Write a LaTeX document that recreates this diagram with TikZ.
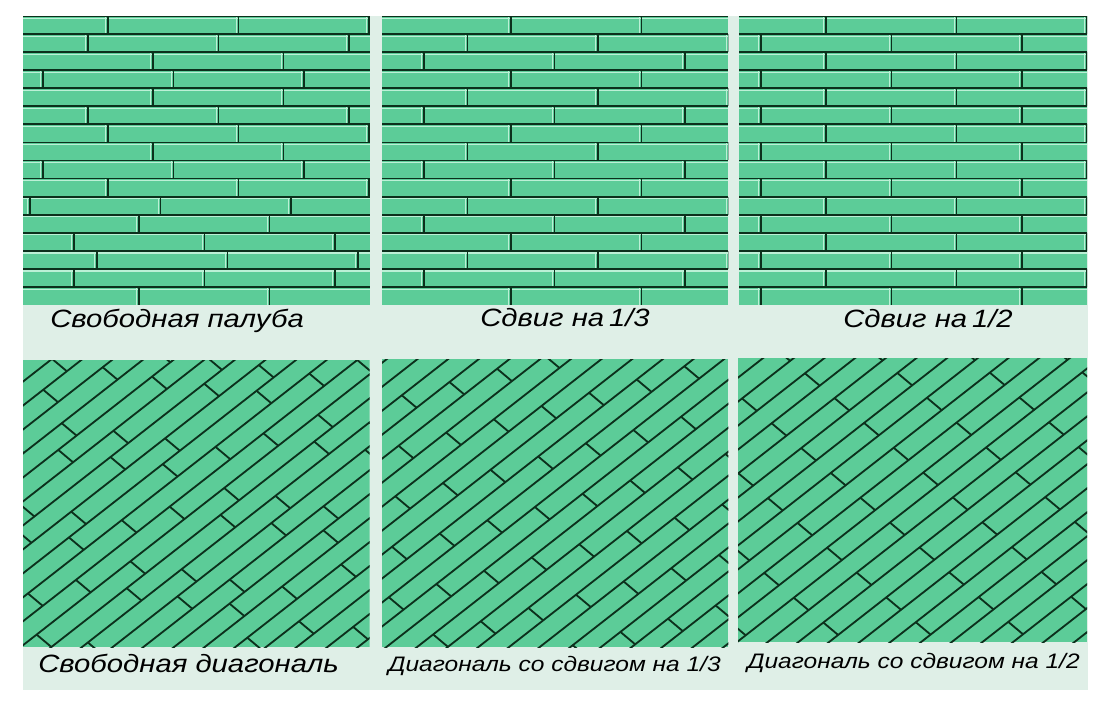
\documentclass[tikz,border=0pt]{standalone}
\usepackage{fontspec}
\setmainfont{Liberation Sans}
\usepackage{tikz}
\definecolor{boardgreen}{RGB}{92,204,152}
\definecolor{seamdark}{RGB}{12,48,28}
\definecolor{boardlight}{RGB}{188,240,214}
\definecolor{mintbg}{RGB}{223,239,231}
\newcommand{\rowheight}{18.06}
\newcommand{\boardlength}{130.5}
\newcommand{\bigcaption}{\fontsize{17.8}{20}\selectfont\itshape}
\newcommand{\smallcaption}{\fontsize{14.9}{17}\selectfont\itshape}
\tikzset{
    panel/.style={fill=boardgreen},
    seam/.style={draw=seamdark, line width=1.3pt},
    slantseam/.style={draw=seamdark, line width=1.3pt},
    gleam/.style={draw=boardlight, line width=0.8pt},
    caption/.style={anchor=base west, inner sep=0pt, xscale=1.17, transform shape, font=\bigcaption},
    smallcaption/.style={caption, font=\smallcaption}
}
% straight deck: left x, right x, first joint of each row
\newcommand{\straightdeck}[3]{%
    \begin{scope}
        \clip (#1,16) rectangle (#2,305);
        \fill[panel] (#1,16) rectangle (#2,305);
        \foreach \off [count=\r from 0] in {#3} {
            \draw[gleam] (#1,16+\r*\rowheight+2.2) -- (#2,16+\r*\rowheight+2.2);
            \foreach \k in {-1,...,3}
                \draw[gleam] ({#1+\off+\k*\boardlength-2.2},16+\r*\rowheight) -- ++(0,\rowheight);
            \draw[seam] (#1,16+\r*\rowheight) -- (#2,16+\r*\rowheight);
            \foreach \k in {-1,...,3}
                \draw[seam] ({#1+\off+\k*\boardlength},16+\r*\rowheight) -- ++(0,\rowheight);
        }
    \end{scope}
}
% slanted deck: corners, row phase, board length, first joint of each row
\newcommand{\slantdeck}[7]{%
    \begin{scope}
        \clip (#1,#2) rectangle (#3,#4);
        \fill[panel] (#1,#2) rectangle (#3,#4);
        \begin{scope}[shift={(#1,#2)}, x={(0.0197cm,0.0154cm)}, y={(0.3696cm,-0.3102cm)}]
            \foreach \off [count=\r from -1] in {#7} {
                \draw[slantseam] (-320,\r+#5) -- (320,\r+#5);
                \foreach \k in {-3,...,3}
                    \draw[slantseam] ({\off+\k*#6},\r+#5) -- ++(0,1);
            }
        \end{scope}
    \end{scope}
}

\begin{document}
\begin{tikzpicture}[x=0.025cm,y=-0.025cm]
    \useasboundingbox (0,0) rectangle (1100,700);
    \fill[mintbg] (23,16) rectangle (1088,690);

    \straightdeck{23}{370}{85,65,130,20,130,65,85,130,20,85,7,116,51,74,51,116}
    \straightdeck{382}{728.3}{129,85.5,42,129,85.5,42,129,85.5,42,129,85.5,42,129,85.5,42,129}
    \straightdeck{739}{1087}{87,22,87,22,87,22,87,22,87,22,87,22,87,22,87,22}

    \slantdeck{23}{360}{369.5}{647}{-0.1}{119}{30,60,20,109,46.7,95,71.8,4,100.5,32,10.3,58.5,100.6,32,8.5,59.5,35.5,83,64,112,49,95.8,60,8,40,60}
    \slantdeck{382}{359}{728.3}{647}{0.16}{125}{109.6,26.3,68,109.6,26.3,68,109.6,26.3,68,109.6,26.3,68,109.6,26.3,68,109.6,26.3,68,109.6,26.3,68,109.6,26.3,68,109.6,26.3}
    \slantdeck{738}{358}{1087}{642}{-0.18}{122}{32,93,32,93,32,93,32,93,32,93,32,93,32,93,32,93,32,93,32,93,32,93,32,93,32,93}

    \node[caption] (freedeck) at (50,327) {Свободная палуба};
    \node[caption] (thirddeck) at (480,326) {Сдвиг на\,1/3};
    \node[caption] (halfdeck) at (843,327) {Сдвиг на\,1/2};
    \node[caption] (freeslant) at (38,672) {Свободная диагональ};
    \node[smallcaption] (thirdslant) at (388,671) {Диагональ со сдвигом на 1/3};
    \node[smallcaption] (halfslant) at (747,668) {Диагональ со сдвигом на 1/2};
\end{tikzpicture}
\end{document}
